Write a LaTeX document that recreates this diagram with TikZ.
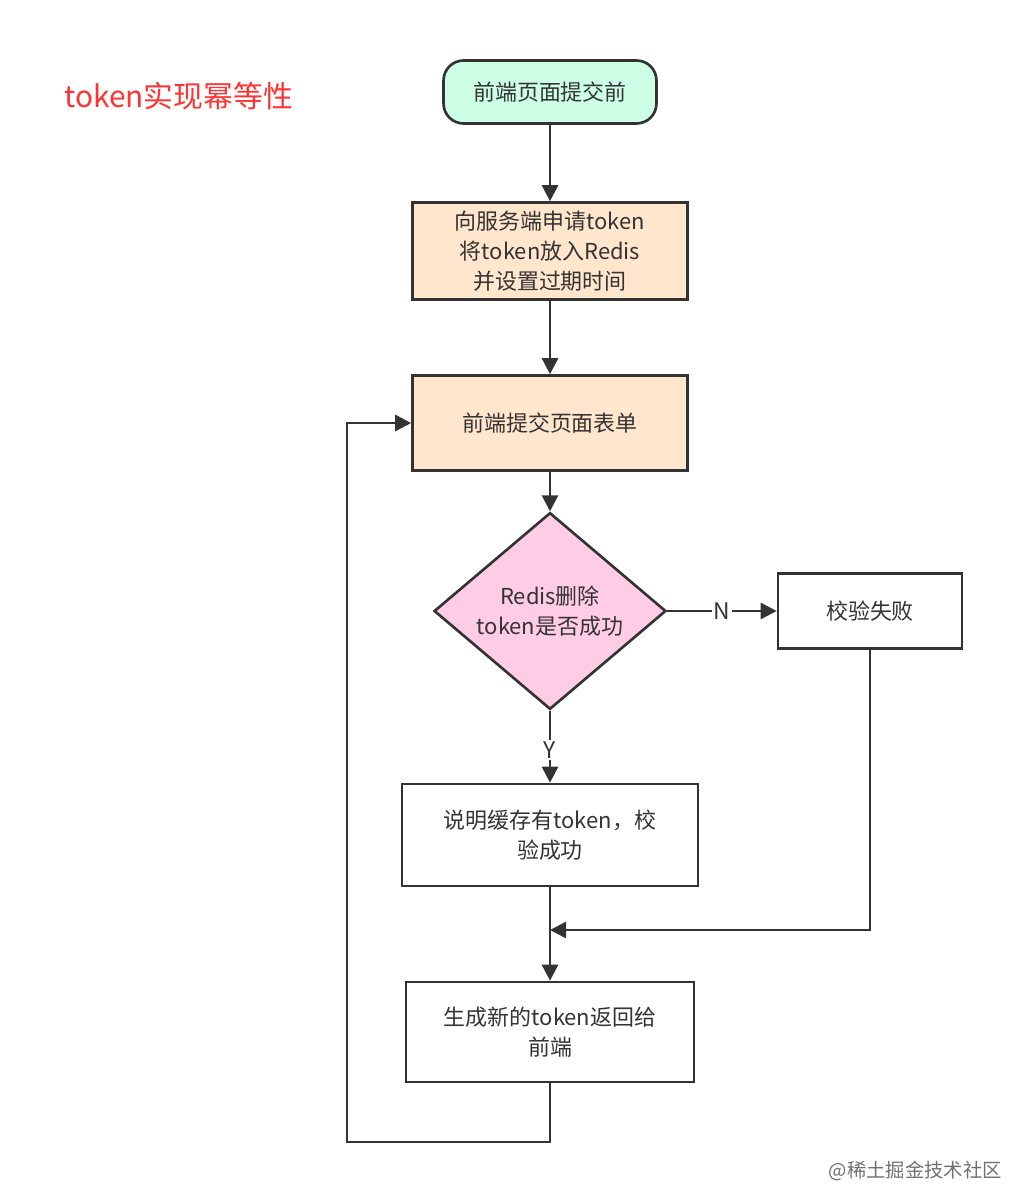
\documentclass[tikz,border=0pt]{standalone}
\usepackage{fontspec}
\setmainfont{Noto Sans CJK SC}
\usetikzlibrary{shapes.geometric,arrows.meta,positioning}
\definecolor{ink}{HTML}{333333}
\definecolor{mint}{HTML}{CCFFE6}
\definecolor{peach}{HTML}{FFE6CC}
\definecolor{pink}{HTML}{FFCCE6}
\tikzset{
block/.style={rectangle, draw=ink, line width=1.5pt, text=ink, align=center, font=\fontsize{12.5}{17}\selectfont},
line/.style={draw=ink, line width=1.5pt, -{Triangle[length=3.2mm, width=3.2mm]}}
}

\begin{document}
\begin{tikzpicture}[x=0.02cm, y=-0.02cm]
    \useasboundingbox (0,0) rectangle (1012,1189);
    % Place nodes
    \node [anchor=west, text=red!80!white, font=\fontsize{17}{20}\selectfont] (title) at (58,96) {token实现幂等性};
    \node [block, rounded corners=0.4cm, fill=mint, minimum width=4.26cm, minimum height=1.26cm] (start) at (550,92) {前端页面提交前};
    \node [block, fill=peach, minimum width=5.5cm, minimum height=1.94cm] (apply) at (550,251) {向服务端申请token\\将token放入Redis\\并设置过期时间};
    \node [block, fill=peach, minimum width=5.5cm, minimum height=1.9cm] (submit) at (550,423) {前端提交页面表单};
    \node [block, diamond, fill=pink, minimum width=4.64cm, minimum height=2.84cm, inner sep=0pt] (check) at (550,611) {Redis删除\\token是否成功};
    \node [block, minimum width=3.68cm, minimum height=1.5cm] (fail) at (870,611) {校验失败};
    \node [block, minimum width=5.92cm, minimum height=2.04cm] (success) at (550,835) {说明缓存有token，校\\验成功};
    \node [block, minimum width=5.76cm, minimum height=2cm] (renew) at (550,1032) {生成新的token返回给\\前端};
    \coordinate (merge) at (550,930);
    \coordinate (loop) at (347,1142);
    \node [text=ink!70, font=\fontsize{11}{13}\selectfont, anchor=east] (mark) at (1008,1171) {@稀土掘金技术社区};
    % Draw edges
    \path [line] (start) -- (apply);
    \path [line] (apply) -- (submit);
    \path [line] (submit) -- (check);
    \path [line] (check) -- node [text=ink, font=\fontsize{13}{15}\selectfont, fill=white, inner sep=1pt] {N} (fail);
    \path [line] (check) -- node [text=ink, font=\fontsize{13}{15}\selectfont, fill=white, inner sep=1pt, pos=0.55] {Y} (success);
    \path [line] (fail.south) |- (merge);
    \path [line] (success) -- (renew);
    \path [line] (renew.south) |- (loop) |- (submit.west);
\end{tikzpicture}
\end{document}
